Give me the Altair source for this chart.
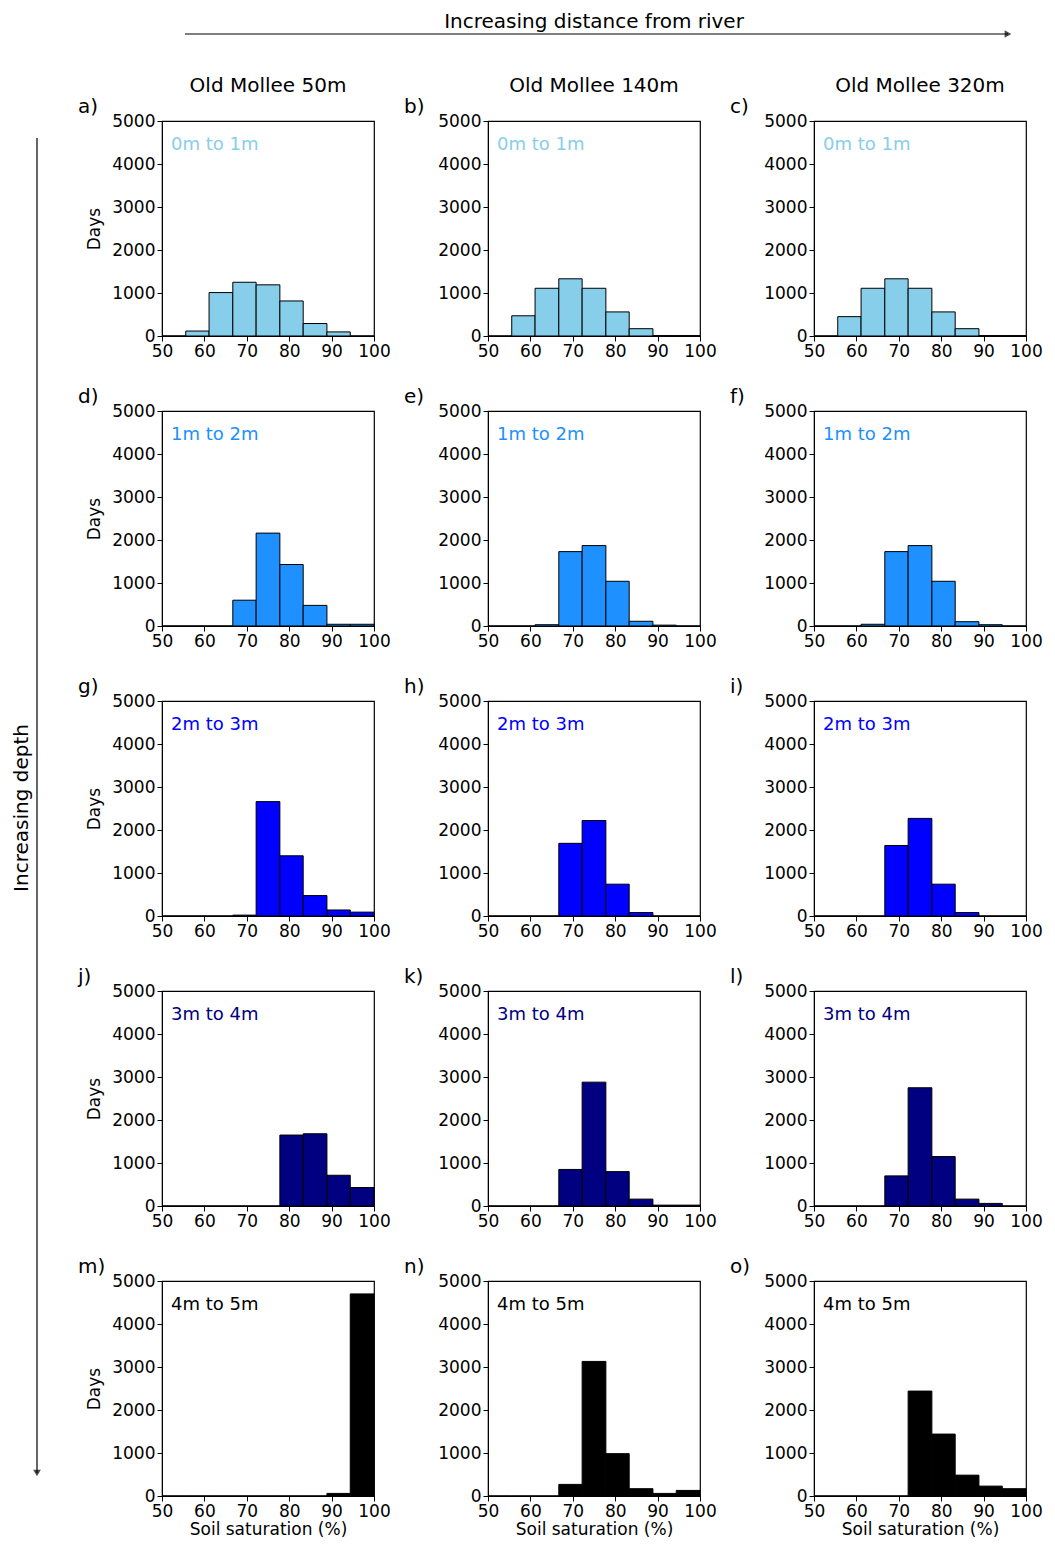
import altair as alt
import pandas as pd

bin_lo = [50.0, 55.6, 61.1, 66.7, 72.2, 77.8, 83.3, 88.9, 94.4]
bin_hi = [55.6, 61.1, 66.7, 72.2, 77.8, 83.3, 88.9, 94.4, 100.0]

sites = ["Old Mollee 50m", "Old Mollee 140m", "Old Mollee 320m"]
depths = ["0m to 1m", "1m to 2m", "2m to 3m", "3m to 4m", "4m to 5m"]
depth_colors = ["#87CEEB", "#1E90FF", "#0000FF", "#000080", "#000000"]
letters = list("abcdefghijklmno")

# days per bin, rows = depth, cols = site
counts = [
    [
        [0, 115, 1010, 1250, 1190, 815, 290, 95, 0],
        [0, 470, 1110, 1330, 1110, 560, 170, 10, 10],
        [0, 450, 1110, 1330, 1110, 560, 170, 10, 10],
    ],
    [
        [0, 0, 0, 600, 2160, 1430, 480, 40, 40],
        [0, 0, 30, 1730, 1870, 1040, 110, 20, 0],
        [0, 0, 40, 1730, 1870, 1040, 100, 30, 0],
    ],
    [
        [0, 0, 0, 20, 2660, 1400, 475, 140, 90],
        [0, 0, 0, 1690, 2220, 740, 80, 0, 0],
        [0, 0, 0, 1640, 2270, 740, 80, 0, 0],
    ],
    [
        [0, 0, 0, 0, 0, 1650, 1680, 715, 430],
        [0, 0, 0, 850, 2880, 800, 160, 20, 20],
        [0, 0, 0, 700, 2750, 1150, 160, 60, 0],
    ],
    [
        [0, 0, 0, 0, 0, 0, 0, 60, 4700],
        [0, 0, 0, 270, 3130, 985, 170, 60, 130],
        [0, 0, 0, 0, 2440, 1440, 485, 230, 170],
    ],
]

FONT = "DejaVu Sans"
W, H = 212, 215


def panel(r, c):
    df = pd.DataFrame({"lo": bin_lo, "hi": bin_hi, "days": counts[r][c], "base": 0})
    last = r == len(depths) - 1
    bars = (
        alt.Chart(df)
        .mark_bar(color=depth_colors[r], stroke="black", strokeWidth=1)
        .encode(
            x=alt.X(
                "lo:Q",
                scale=alt.Scale(domain=[50, 100], nice=False),
                axis=alt.Axis(
                    values=[50, 60, 70, 80, 90, 100],
                    title="Soil saturation (%)" if last else None,
                    grid=False, tickSize=5, labelOverlap=False, labelFlush=False,
                    titlePadding=2,
                ),
            ),
            x2="hi:Q",
            y=alt.Y(
                "days:Q",
                scale=alt.Scale(domain=[0, 5000], nice=False),
                axis=alt.Axis(
                    values=[0, 1000, 2000, 3000, 4000, 5000], format="d",
                    title="Days" if c == 0 else None,
                    grid=False, tickSize=5, labelOverlap=False, labelFlush=False,
                    titlePadding=8,
                ),
            ),
            y2="base:Q",
        )
    )
    one = df.head(1)
    lab = alt.Chart(one).mark_text(
        align="left", baseline="middle", fontSize=18, font=FONT, color=depth_colors[r]
    ).encode(x=alt.value(9), y=alt.value(24), text=alt.value(depths[r]))
    let = alt.Chart(one).mark_text(
        align="left", baseline="middle", fontSize=20, font=FONT, color="black"
    ).encode(x=alt.value(-84), y=alt.value(-14), text=alt.value(letters[r * 3 + c] + ")"))
    layers = [bars, lab, let]
    if r == 0:
        layers.append(
            alt.Chart(one).mark_text(fontSize=20, font=FONT, baseline="middle")
            .encode(x=alt.value(W / 2), y=alt.value(-35), text=alt.value(sites[c]))
        )
    if r == 0 and c == 0:
        layers += [
            alt.Chart(one).mark_rule(color="black", strokeWidth=1.2)
            .encode(x=alt.value(23), x2=alt.value(846), y=alt.value(-87)),
            alt.Chart(one).mark_point(shape="triangle-right", filled=True, color="black", size=60)
            .encode(x=alt.value(846), y=alt.value(-87)),
            alt.Chart(one).mark_text(fontSize=20, font=FONT, baseline="middle")
            .encode(x=alt.value(432), y=alt.value(-99), text=alt.value("Increasing distance from river")),
            alt.Chart(one).mark_rule(color="black", strokeWidth=1.2)
            .encode(x=alt.value(-125), y=alt.value(17), y2=alt.value(1352)),
            alt.Chart(one).mark_point(shape="triangle-down", filled=True, color="black", size=60)
            .encode(x=alt.value(-125), y=alt.value(1352)),
            alt.Chart(one).mark_text(fontSize=20, font=FONT, angle=270, baseline="middle")
            .encode(x=alt.value(-140), y=alt.value(687), text=alt.value("Increasing depth")),
        ]
    return alt.layer(*layers).properties(width=W, height=H)


panels = [panel(r, c) for r in range(len(depths)) for c in range(3)]
chart = (
    alt.concat(*panels, columns=3, spacing={"row": 75, "column": 114}, bounds="flush")
    .properties(padding=3)
    .configure_view(stroke="black", strokeWidth=1.2)
    .configure_axis(
        labelFont=FONT, titleFont=FONT, labelFontSize=17, titleFontSize=17,
        labelColor="black", titleColor="black", titleFontWeight="normal",
        domainColor="black", tickColor="black",
    )
)
chart.save("out.html", embed_options={"renderer": "svg", "actions": False})
